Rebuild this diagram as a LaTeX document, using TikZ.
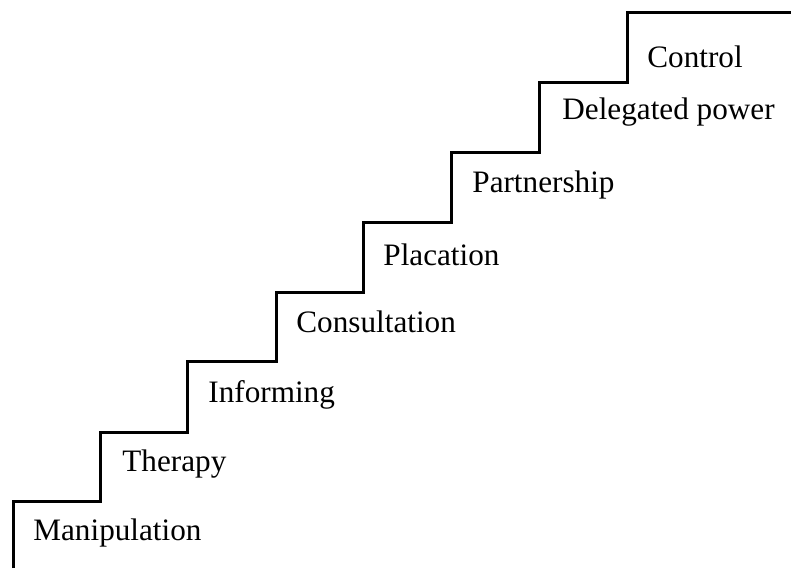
\documentclass[tikz,border=0pt]{standalone}
\usepackage{fontspec}
\setmainfont{Liberation Serif}
\begin{document}
\begin{tikzpicture}[x=0.5pt,y=-0.5pt,
  stair/.style={line width=1.5pt,line join=miter},
  lbl/.style={anchor=base west,inner sep=0pt,font=\fontsize{15.6pt}{18pt}\selectfont}]
\useasboundingbox (0,0) rectangle (791,568);
\draw[stair] (13,568) -- (13,501) -- (100,501) -- (100,432) -- (187,432) -- (187,361)
  -- (276,361) -- (276,292) -- (363,292) -- (363,222) -- (451,222) -- (451,152)
  -- (539,152) -- (539,82) -- (627,82) -- (627,12) -- (791,12);
\node[lbl] (l1) at (33,540) {Manipulation};
\node[lbl] (l2) at (122,471) {Therapy};
\node[lbl] (l3) at (208,402) {Informing};
\node[lbl] (l4) at (296,332) {Consultation};
\node[lbl] (l5) at (383,265) {Placation};
\node[lbl] (l6) at (472,192) {Partnership};
\node[lbl] (l7) at (562,119) {Delegated power};
\node[lbl] (l8) at (647,67) {Control};
\end{tikzpicture}
\end{document}
